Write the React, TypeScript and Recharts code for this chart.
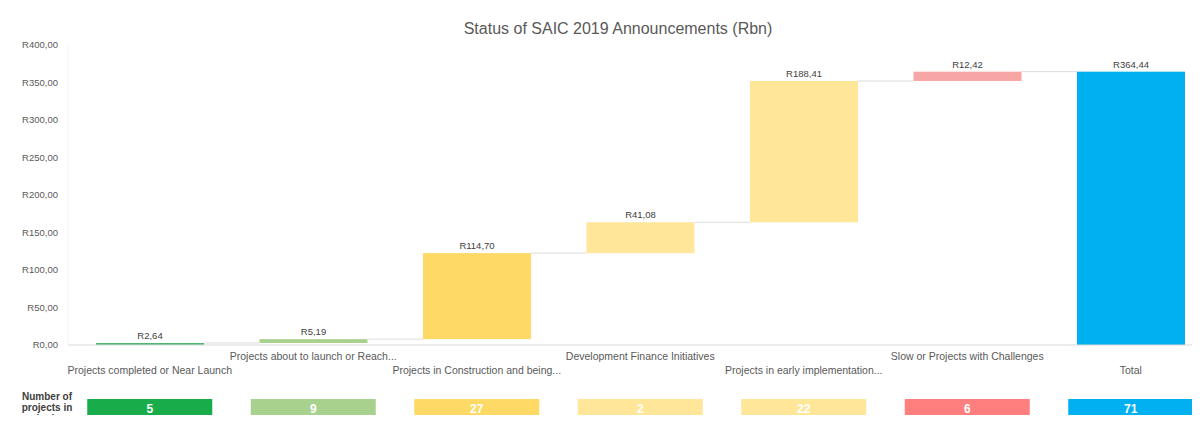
import React from 'react';
import { BarChart, Bar, XAxis, YAxis, LabelList, Cell } from 'recharts';

const categories = [
    'Projects completed or Near Launch',
    'Projects about to launch or Reach...',
    'Projects in Construction and being...',
    'Development Finance Initiatives',
    'Projects in early implementation...',
    'Slow or Projects with Challenges',
    'Total',
];
const amounts = [2.64, 5.19, 114.7, 41.08, 188.41, 12.42];
const projectCounts = [5, 9, 27, 2, 22, 6, 71];
const yTicks = [0, 50, 100, 150, 200, 250, 300, 350, 400];

const barColors = ['#4cb56e', '#a9d18e', '#ffd966', '#ffe699', '#ffe699', '#f7a6a6', '#00b0f0'];
const boxColors = ['#18ad4a', '#a9d18e', '#ffd966', '#ffe699', '#ffe699', '#ff7f7f', '#00b0f0'];

const fmt = (v: number) => 'R' + v.toFixed(2).replace('.', ',');

// waterfall: each step floats on the running total, last one is the total
const data = (() => {
    let run = 0;
    const rows = amounts.map((a, i) => {
        const row = { name: categories[i], range: [run, run + a], amount: a, count: projectCounts[i] };
        run += a;
        return row;
    });
    rows.push({ name: categories[6], range: [0, run], amount: run, count: projectCounts[6] });
    return rows;
})();

const CHART_W = 1214;
const MARGIN_L = 68;
const MARGIN_R = 1.5;
const BAR_W = 108;
const BAND = (CHART_W - MARGIN_L - MARGIN_R) / categories.length;

const StepShape = (props: any) => {
    const { x, y, width, height, index, fill } = props;
    const last = index === categories.length - 1;
    return (
        <g>
            <rect x={x} y={y} width={width} height={Math.max(height, 2)} fill={fill} />
            {!last && (
                <line x1={x + width} x2={x + width + (BAND - BAR_W)} y1={y} y2={y} stroke="#dcdcdc" strokeWidth={1} />
            )}
        </g>
    );
};

const CategoryTick = (props: any) => {
    const { x, payload, index } = props;
    const i = payload?.index ?? index;
    const upper = i % 2 === 1;
    return (
        <g>
            <text x={x} y={upper ? 360 : 374} textAnchor="middle" fontSize={10.5} fill="#595959">
                {categories[i]}
            </text>
            <rect x={x - 62.5} y={399} width={125} height={18} fill={boxColors[i]} />
            <text x={x} y={412.5} textAnchor="middle" fontSize={12} fontWeight="bold" fill="#ffffff">
                {projectCounts[i]}
            </text>
        </g>
    );
};

export default function App() {
    return (
        <div style={{ position: 'relative', width: 1200, height: 423, margin: -8, overflow: 'hidden', background: '#fff', fontFamily: '"Liberation Sans", Arial, sans-serif' }}>
            <div style={{ position: 'absolute', top: 20, left: 0, width: 1236, textAlign: 'center', fontSize: 16, color: '#595959' }}>
                Status of SAIC 2019 Announcements (Rbn)
            </div>
            <div style={{ position: 'absolute', top: 391, left: 12, width: 70, textAlign: 'center', fontSize: 10, fontWeight: 'bold', lineHeight: '11px', color: '#404040' }}>
                Number of<br />projects in<br />each phase
            </div>
            <div style={{ position: 'absolute', top: 0, left: 0 }}>
                <BarChart width={CHART_W} height={423} data={data} margin={{ top: 45, right: MARGIN_R, bottom: 0, left: 0 }}>
                    <XAxis
                        dataKey="name"
                        height={78}
                        interval={0}
                        tickLine={false}
                        axisLine={{ stroke: '#d9d9d9' }}
                        tick={<CategoryTick />}
                    />
                    <YAxis
                        width={MARGIN_L}
                        domain={[0, 400]}
                        ticks={yTicks}
                        tickFormatter={fmt}
                        tickLine={false}
                        axisLine={{ stroke: '#f2f2f2' }}
                        tick={{ fontSize: 9.5, fill: '#595959' }}
                        tickMargin={4}
                    />
                    <Bar dataKey="range" barSize={BAR_W} shape={<StepShape />} isAnimationActive={false}>
                        {data.map((d, i) => (
                            <Cell key={i} fill={barColors[i]} />
                        ))}
                        <LabelList dataKey="amount" position="top" formatter={(v: any) => fmt(Number(v))} fontSize={9.5} fill="#404040" offset={4} />
                    </Bar>
                </BarChart>
            </div>
        </div>
    );
}
